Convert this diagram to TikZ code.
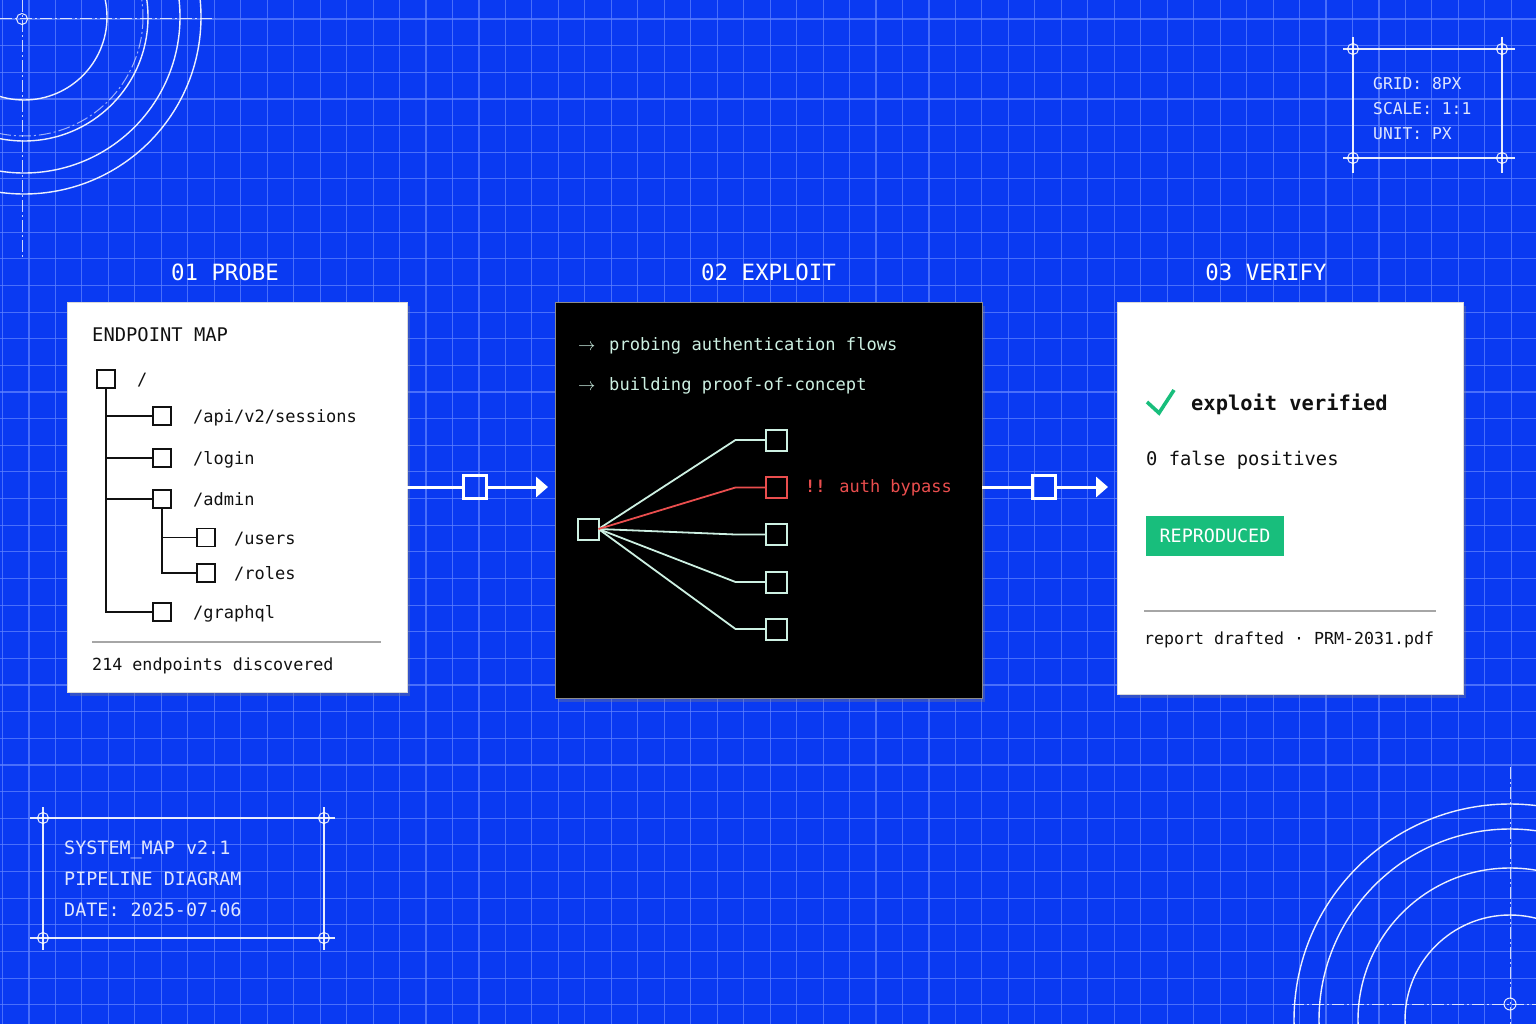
\documentclass[tikz,border=0pt]{standalone}
\usepackage{fontspec}
\newfontfamily\mono{DejaVu Sans Mono}
\usetikzlibrary{arrows.meta,shadows,calc}
\definecolor{bgblue}{RGB}{10,58,242}
\definecolor{gridc}{RGB}{95,130,255}
\definecolor{mint}{RGB}{205,240,226}
\definecolor{redx}{RGB}{234,78,78}
\definecolor{greenx}{RGB}{24,190,124}
\definecolor{inkc}{RGB}{17,17,17}
\definecolor{pale}{RGB}{222,229,255}
\newcommand\mfs[1]{\fontsize{#1}{#1}\selectfont}
\begin{document}
\begin{tikzpicture}[x=1pt,y=-1pt,
  gridline/.style={draw=gridc, line width=1.1pt, opacity=0.75},
  deco/.style={draw=white, line width=1.4pt, opacity=0.92},
  dashdot/.style={draw=white, line width=1pt, opacity=0.8, dash pattern=on 12pt off 3pt on 2pt off 3pt},
  frameline/.style={draw=white, line width=1.3pt, opacity=0.9},
  framecirc/.style={draw=white, line width=1pt, opacity=0.9},
  frametext/.style={text=pale, font=\mono\mfs{16.3}, anchor=mid west, inner sep=0, yshift=-4.5pt},
  frametextb/.style={text=pale, font=\mono\mfs{18.4}, anchor=mid west, inner sep=0, yshift=-4.5pt},
  paneltitle/.style={text=white, font=\mono\mfs{22.4}, anchor=mid, inner sep=0, yshift=-5pt},
  panelw/.style={fill=white, draw=black!15, line width=0.8pt, inner sep=0, outer sep=0,
     drop shadow={opacity=0.35, shadow xshift=3pt, shadow yshift=-4pt}},
  panelb/.style={fill=black, draw=black!45, line width=1pt, inner sep=0, outer sep=0,
     drop shadow={opacity=0.35, shadow xshift=3pt, shadow yshift=-4pt}},
  tbox/.style={draw=inkc, line width=1.6pt, minimum size=18pt, inner sep=0, outer sep=0},
  tline/.style={draw=inkc, line width=1.5pt},
  ttext/.style={text=inkc, font=\mono\mfs{17}, anchor=mid west, inner sep=0, yshift=-4.5pt},
  mbox/.style={draw=mint, line width=2pt, minimum size=21pt, inner sep=0, outer sep=0},
  rbox/.style={draw=redx, line width=2pt, minimum size=21pt, inner sep=0, outer sep=0},
  mline/.style={draw=mint, line width=1.8pt},
  rline/.style={draw=redx, line width=1.8pt},
  mtext/.style={text=mint, font=\mono\mfs{17.1}, anchor=mid west, inner sep=0, yshift=-4.5pt},
  cbox/.style={draw=white, line width=3pt, minimum size=23pt, inner sep=0, outer sep=0},
  cline/.style={draw=white, line width=3pt}
]
\useasboundingbox (0,0) rectangle (1536,1024);
\clip (0,0) rectangle (1536,1024);
% background and grid
\fill[bgblue] (0,0) rectangle (1536,1024);
\foreach \i in {0,...,58} { \draw[gridline] ({2.5+26.47*\i},0) -- ({2.5+26.47*\i},1024); }
\foreach \j in {0,...,39} { \draw[gridline] (0,{-7.6+26.64*\j}) -- (1536,{-7.6+26.64*\j}); }

% top-left decoration
\foreach \r in {83,124,156,177} { \draw[deco] (24,17) circle[radius=\r]; }
\draw[dashdot, opacity=0.6] (24,17) circle[radius=119];
\draw[dashdot] (0,19) -- (215,19);
\draw[dashdot] (22,0) -- (22,258);
\draw[framecirc] (22,19) circle[radius=5.5];

% bottom-right decoration
\foreach \r in {105,152,191,216} { \draw[deco] (1510,1020) circle[radius=\r]; }
\draw[dashdot] (1510,767) -- (1510,1024);
\draw[dashdot] (1292,1004) -- (1536,1004);
\draw[framecirc] (1510,1004) circle[radius=6];

% top-right frame
\draw[frameline] (1343,49) -- (1515,49);
\draw[frameline] (1343,158) -- (1515,158);
\draw[frameline] (1353,37) -- (1353,173);
\draw[frameline] (1502,37) -- (1502,173);
\foreach \p in {(1353,49),(1502,49),(1353,158),(1502,158)} { \draw[framecirc] \p circle[radius=5.5]; }
\node[frametext] (g1t) at (1373,83) {GRID: 8PX};
\node[frametext] (g2t) at (1373,108) {SCALE: 1:1};
\node[frametext] (g3t) at (1373,133) {UNIT: PX};

% bottom-left frame
\draw[frameline] (30,818) -- (335,818);
\draw[frameline] (30,938) -- (335,938);
\draw[frameline] (43,807) -- (43,950);
\draw[frameline] (324,807) -- (324,950);
\foreach \p in {(43,818),(324,818),(43,938),(324,938)} { \draw[framecirc] \p circle[radius=5.5]; }
\node[frametextb] (s1t) at (64,848) {SYSTEM\_MAP v2.1};
\node[frametextb] (s2t) at (64,879) {PIPELINE DIAGRAM};
\node[frametextb] (s3t) at (64,910) {DATE: 2025-07-06};

% titles
\node[paneltitle] (t1) at (225,273) {01 PROBE};
\node[paneltitle] (t2) at (768.5,273) {02 EXPLOIT};
\node[paneltitle] (t3) at (1266,273) {03 VERIFY};

% panels
\node[panelw, minimum width=340pt, minimum height=390pt] (p1) at (237,497) {};
\node[panelb, minimum width=427pt, minimum height=396pt] (p2) at (768.5,500) {};
\node[panelw, minimum width=346pt, minimum height=392pt] (p3) at (1290,498) {};

% panel 1: endpoint tree
\node[text=inkc, font=\mono\mfs{18.8}, anchor=mid west, inner sep=0, yshift=-4.5pt] (emap) at (92,335) {ENDPOINT MAP};
\node[tbox] (r) at (106,379) {};
\node[tbox] (a1) at (162,416) {};
\node[tbox] (a2) at (162,458) {};
\node[tbox] (a3) at (162,499) {};
\node[tbox] (a4) at (162,612) {};
\node[tbox] (g1) at (206,537.5) {};
\node[tbox] (g2) at (206,573) {};
\draw[tline] (r.south) -- (r.south |- a4) -- (a4.west);
\draw[tline] (r.south |- a1) -- (a1.west);
\draw[tline] (r.south |- a2) -- (a2.west);
\draw[tline] (r.south |- a3) -- (a3.west);
\draw[tline] (a3.south) -- (a3.south |- g2) -- (g2.west);
\draw[tline] (a3.south |- g1) -- (g1.west);
\node[ttext] (lr) at (137,379) {/};
\node[ttext] (la1) at (193,416) {/api/v2/sessions};
\node[ttext] (la2) at (193,458) {/login};
\node[ttext] (la3) at (193,499) {/admin};
\node[ttext] (lg1) at (234,537.5) {/users};
\node[ttext] (lg2) at (234,573) {/roles};
\node[ttext] (la4) at (193,612) {/graphql};
\draw[draw=black!35, line width=1.2pt] (92,642) -- (381,642);
\node[ttext, font=\mono\mfs{16.7}] (disc) at (92,664) {214 endpoints discovered};

% panel 2: exploit tree
\node[mtext] (ar1) at (578,344) {$\rightarrow$};
\node[mtext] (ln1) at (609,344) {probing authentication flows};
\node[mtext] (ar2) at (578,384) {$\rightarrow$};
\node[mtext] (ln2) at (609,384) {building proof-of-concept};
\node[mbox] (s) at (588,529) {};
\node[mbox] (e1) at (776,440) {};
\node[rbox] (e2) at (776,487.5) {};
\node[mbox] (e3) at (776,534.5) {};
\node[mbox] (e4) at (776,582) {};
\node[mbox] (e5) at (776,629) {};
\draw[mline] (s.east) -- ([xshift=-30pt]e1.west) -- (e1.west);
\draw[mline] (s.east) -- ([xshift=-30pt]e3.west) -- (e3.west);
\draw[mline] (s.east) -- ([xshift=-30pt]e4.west) -- (e4.west);
\draw[mline] (s.east) -- ([xshift=-30pt]e5.west) -- (e5.west);
\draw[rline] (s.east) -- ([xshift=-30pt]e2.west) -- (e2.west);
\node[mtext, text=redx, font=\mono\mfs{17}] (bypass) at (805,486) {{\bfseries !!} auth bypass};

% panel 3: verify
\coordinate (ck1) at (1147,402);
\coordinate (ck2) at (1159,413);
\coordinate (ck3) at (1174,390);
\draw[draw=greenx, line width=3.6pt] (ck1) -- (ck2) -- (ck3);
\node[ttext, font=\mono\bfseries\mfs{20.4}] (ver) at (1191,404) {exploit verified};
\node[ttext, font=\mono\mfs{18.8}] (fp) at (1146,459) {0 false positives};
\node[fill=greenx, minimum width=138pt, minimum height=40pt, inner sep=0, text=white, font=\mono\mfs{18.4}] (badge) at (1215,536) {REPRODUCED};
\draw[draw=black!35, line width=1.2pt] (1144,611) -- (1436,611);
\node[ttext, font=\mono\mfs{16.6}] (rep) at (1144,638) {report drafted · PRM-2031.pdf};

% connectors
\node[cbox] (c1) at (475,487) {};
\node[cbox] (c2) at (1044,487) {};
\draw[cline] (p1.east |- c1) -- (c1.west);
\draw[cline, -{Triangle[length=12pt,width=20pt]}, shorten >=7pt] (c1.east) -- (p2.west |- c1);
\draw[cline] (p2.east |- c2) -- (c2.west);
\draw[cline, -{Triangle[length=12pt,width=20pt]}, shorten >=9pt] (c2.east) -- (p3.west |- c2);
\end{tikzpicture}
\end{document}
